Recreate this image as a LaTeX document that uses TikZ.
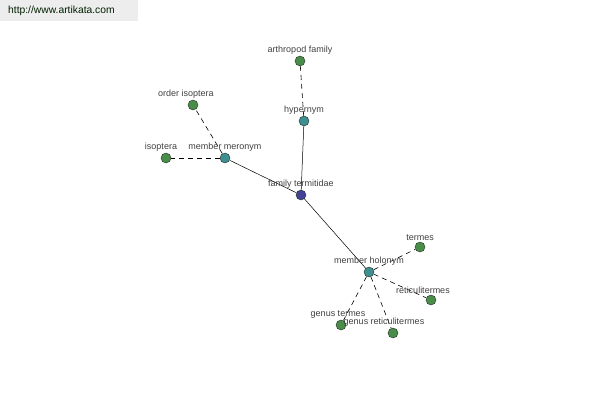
\documentclass[tikz,border=0pt]{standalone}
\usepackage{fontspec}
\setmainfont{Liberation Sans}
\usetikzlibrary{positioning, backgrounds}
\definecolor{leafgreen}{RGB}{74,140,74}
\definecolor{relteal}{RGB}{62,142,146}
\definecolor{rootblue}{RGB}{66,66,150}
\definecolor{rimdark}{RGB}{30,50,30}
\tikzset{node/.style = {circle,draw=rimdark,inner sep=0pt,minimum size=10pt,thin},
         leaf/.style = {node,fill=leafgreen},
         rel/.style  = {node,fill=relteal},
         root/.style = {node,fill=rootblue},
         lbl/.style  = {inner sep=0pt,text=black!75,font=\fontsize{9}{10}\selectfont},
         link/.style = {draw=black,line width=0.5pt},
         weak/.style = {draw=black,line width=0.6pt,dash pattern=on 5pt off 4pt}}

\begin{document}
\begin{tikzpicture}[x=1pt,y=-1pt,label distance=0.8pt]
            \useasboundingbox (0,0) rectangle (600,400);
            \fill[black!7] (0,0) rectangle (138,21);
            \node [lbl, font=\fontsize{10.3}{12}\selectfont, text=black!70!green!40!black, anchor=west] (site) at (8,11) {http://www.artikata.com};

            \node [root, label={[lbl]above:family termitidae}]                 (ft)  at (301,195) {};
            \node [rel,  label={[lbl]above:hypernym}]                          (hy)  at (304,121) {};
            \node [leaf, label={[lbl]above:arthropod family}]                  (af)  at (300, 61) {};
            \node [rel,  label={[lbl]above:member meronym}]                    (mm)  at (225,158) {};
            \node [leaf, label={[lbl,xshift=-7pt]above:order isoptera}]        (oi)  at (193,105) {};
            \node [leaf, label={[lbl,xshift=-5pt]above:isoptera}]              (is)  at (166,158) {};
            \node [rel,  label={[lbl]above:member holonym}]                    (mh)  at (369,272) {};
            \node [leaf, label={[lbl]above:termes}]                            (te)  at (420,247) {};
            \node [leaf, label={[lbl,xshift=-8pt]above:reticulitermes}]        (rt)  at (431,300) {};
            \node [leaf, label={[lbl,xshift=-3pt]above:genus termes}]          (gt)  at (341,325) {};
            \node [leaf, label={[lbl,xshift=-9pt]above:genus reticulitermes}]  (gr)  at (393,333) {};

            \begin{scope}[on background layer]
            \draw [link] (ft) -- (hy);
            \draw [link] (ft) -- (mm);
            \draw [link] (ft) -- (mh);
            \draw [weak] (hy) -- (af);
            \draw [weak] (mm) -- (oi);
            \draw [weak] (mm) -- (is);
            \draw [weak] (mh) -- (te);
            \draw [weak] (mh) -- (rt);
            \draw [weak] (mh) -- (gt);
            \draw [weak] (mh) -- (gr);
            \end{scope}
        \end{tikzpicture}
\end{document}
